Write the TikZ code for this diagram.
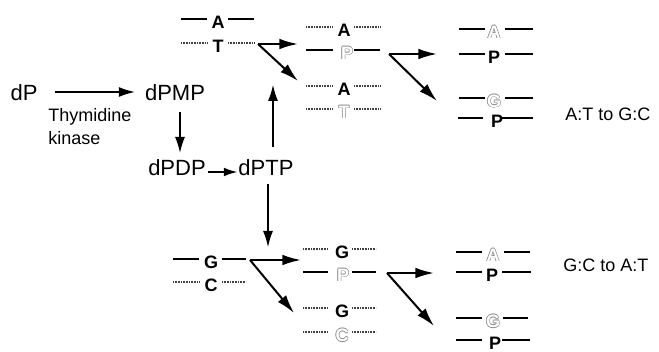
\documentclass[tikz,border=0pt]{standalone}
\usepackage{fontspec}
\setmainfont{Liberation Sans}
\usetikzlibrary{arrows.meta,calc}
\definecolor{holc}{gray}{0.55}
\definecolor{dotc}{gray}{0.25}
\newcommand\holl[1]{{\setbox0=\hbox{#1}%
 \def\hp##1##2{\rlap{\kern##1\raise##2\copy0}}%
 {\color{holc}\hp{0.4pt}{0pt}\hp{-0.4pt}{0pt}\hp{0pt}{0.4pt}\hp{0pt}{-0.4pt}%
 \hp{0.28pt}{0.28pt}\hp{-0.28pt}{0.28pt}\hp{0.28pt}{-0.28pt}\hp{-0.28pt}{-0.28pt}}%
 {\color{white}\copy0}}}
\newcommand\strandrow[9]{%
 \node[base] (#1) at #2 {#3};
 \draw[#4] ($(#1)+(#6,-3)$) -- ($(#1)+(#7,-3)$);
 \draw[#5] ($(#1)+(#8,-3)$) -- ($(#1)+(#9,-3)$);
}
\begin{document}
\begin{tikzpicture}[x=0.75pt,y=-0.75pt,
 big/.style={inner sep=0pt,font=\fontsize{16.5}{18}\selectfont,text height=11.8pt,text depth=0pt},
 small/.style={inner sep=0pt,font=\fontsize{13.5}{15}\selectfont,anchor=west,text height=9.7pt,text depth=0pt},
 base/.style={inner sep=0pt,font=\bfseries\fontsize{13.5}{15}\selectfont,text height=9.7pt,text depth=0pt},
 sol/.style={line width=1pt},
 dot/.style={line width=0.9pt,dotc,dash pattern=on 0.6pt off 0.6pt},
 arr/.style={-{Latex[length=12pt,width=7.5pt]},line width=0.9pt},
 sarr/.style={-{Latex[length=10pt,width=6.5pt]},line width=0.9pt},
 barr/.style={-{Latex[length=14pt,width=8pt]},line width=1.5pt},
]
\useasboundingbox (0,0) rectangle (659,352);

% pathway
\node[big] (dP) at (24,93) {dP};
\node[big] (dPMP) at (175,93) {dPMP};
\node[small] (thy) at (48,115) {Thymidine};
\node[small] (kin) at (48,138) {kinase};
\node[big] (dPDP) at (177,168) {dPDP};
\node[big] (dPTP) at (266,168) {dPTP};
\coordinate (up) at (273,85);
\coordinate (dn) at (268,247);
\draw[arr] ($(dP.east)+(17,-1)$) -- ($(dPMP.west)+(-10,-1)$);
\draw[arr] ($(dPMP.south)+(5,11)$) -- ($(dPDP.north)+(3,-7)$);
\draw[sarr] ($(dPDP.east)+(2,4)$) -- ($(dPTP.west)+(-1,4)$);
\draw[arr] ($(dPTP.north)+(7,-13)$) -- (up);
\draw[arr] ($(dPTP.south)+(2,8)$) -- (dn);

% top group
\strandrow{a1}{(218,22)}{A}{sol}{sol}{-37}{-11}{10}{36}
\strandrow{t1}{(218,46)}{T}{dot}{dot}{-37}{-11}{10}{36}
\coordinate (b1) at (258,44);
\coordinate (b1h) at (298,44);
\coordinate (b1d) at (298,81);
\draw[barr] (b1) -- (b1h);
\draw[barr] (b1) -- (b1d);

\strandrow{a2}{(344,30)}{A}{dot}{dot}{-38}{-11}{10}{36}
\strandrow{p2}{(347,53)}{\holl{P}}{sol}{sol}{-41}{-14}{7}{33}
\strandrow{a3}{(344,89)}{A}{dot}{dot}{-38}{-11}{10}{36}
\strandrow{t3}{(344,112)}{\holl{T}}{dot}{dot}{-38}{-11}{10}{36}
\coordinate (b2) at (389,54);
\coordinate (b2h) at (437,54);
\coordinate (b2d) at (437,101);
\draw[barr] (b2) -- (b2h);
\draw[barr] (b2) -- (b2d);

\strandrow{a4}{(494,32)}{\holl{A}}{sol}{sol}{-35}{-9}{11}{39}
\strandrow{p4}{(494,57)}{P}{sol}{sol}{-35}{-9}{11}{39}
\strandrow{g4}{(494,101)}{\holl{G}}{sol}{sol}{-35}{-9}{11}{39}
\strandrow{p5}{(497,121)}{P}{sol}{sol}{-39}{-14}{5}{36}
\node[small] (lab1) at (565,114) {A:T to G:C};

% bottom group
\strandrow{g1}{(211,262)}{G}{sol}{sol}{-38}{-12}{11}{35}
\strandrow{c1}{(211,285)}{C}{dot}{dot}{-38}{-12}{11}{35}
\coordinate (b3) at (250,260);
\coordinate (b3h) at (301,260);
\coordinate (b3d) at (294,313);
\draw[barr] (b3) -- (b3h);
\draw[barr] (b3) -- (b3d);

\strandrow{g2}{(342,252)}{G}{dot}{dot}{-39}{-14}{10}{34}
\strandrow{p6}{(343,275)}{\holl{P}}{sol}{sol}{-40}{-15}{9}{33}
\strandrow{g3}{(342,311)}{G}{dot}{dot}{-39}{-14}{10}{34}
\strandrow{c3}{(342,335)}{\holl{C}}{dot}{dot}{-39}{-14}{10}{34}
\coordinate (b4) at (387,273);
\coordinate (b4h) at (434,273);
\coordinate (b4d) at (434,326);
\draw[barr] (b4) -- (b4h);
\draw[barr] (b4) -- (b4d);

\strandrow{a5}{(493,255)}{\holl{A}}{sol}{sol}{-37}{-11}{11}{37}
\strandrow{p7}{(492,275)}{P}{sol}{sol}{-36}{-10}{10}{39}
\strandrow{g5}{(493,321)}{\holl{G}}{sol}{sol}{-37}{-11}{10}{35}
\strandrow{p8}{(495,343)}{P}{sol}{sol}{-39}{-13}{7}{35}
\node[small] (lab2) at (563,265) {G:C to A:T};
\end{tikzpicture}
\end{document}
